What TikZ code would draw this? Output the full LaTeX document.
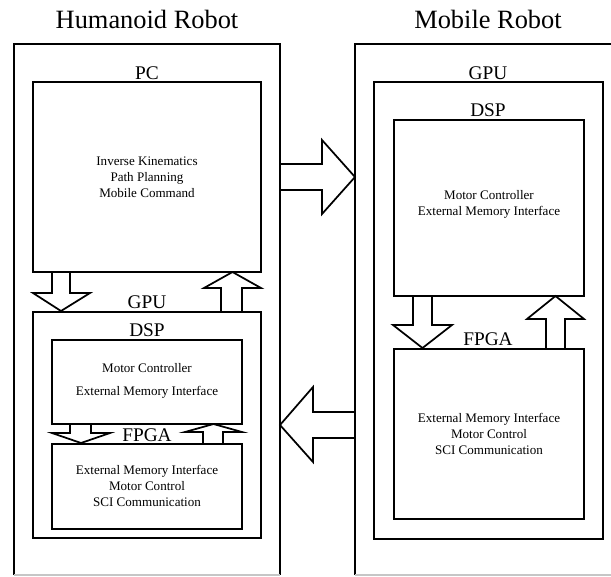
\documentclass[tikz,border=0pt]{standalone}
\usepackage{fontspec}
\setmainfont{Liberation Serif}
\begin{document}
\begin{tikzpicture}[x=0.75pt,y=-0.75pt,
  box/.style={draw=black, line width=1.4pt, inner sep=0pt, outer sep=0pt},
  blk/.style={draw=black, line width=1.3pt, line join=miter},
  title/.style={font=\fontsize{19.8}{22}\selectfont, inner sep=0pt},
  lbl/.style={font=\fontsize{14.5}{17}\selectfont, inner sep=0pt},
  txt/.style={font=\fontsize{9.8}{12}\selectfont, align=center, inner sep=0pt}]
\useasboundingbox (0,0) rectangle (611,576);
% titles
\node[title] (th) at (147,19) {Humanoid Robot};
\node[title] (tm) at (488,19) {Mobile Robot};
% outer boxes
\draw[line width=1.4pt] (14,575) -- (14,44) -- (280,44) -- (280,575);
\draw[gray!45, line width=0.8pt] (14,575) -- (280,575);
\draw[line width=1.4pt] (611,44) -- (355,44) -- (355,575);
\draw[gray!45, line width=0.8pt] (355,575) -- (611,575);
% ---------- Humanoid ----------
\node[lbl] (pcl) at (147,73) {PC};
\node[box, minimum width=228*0.75pt, minimum height=190*0.75pt] (pc) at (147,177) {};
\node[txt] (pct) at (147,177) {Inverse Kinematics\\Path Planning\\Mobile Command};
\node[lbl] (hgl) at (147,302) {GPU};
\node[box, minimum width=228*0.75pt, minimum height=226*0.75pt] (hgpu) at (147,425) {};
\node[lbl] (hdl) at (147,330) {DSP};
\node[box, minimum width=190*0.75pt, minimum height=84*0.75pt] (hdsp) at (147,382) {};
\node[txt] (hdt) at (147,380.5) {Motor Controller\\[5.2pt]External Memory Interface};
\node[lbl] (hfl) at (147,435) {FPGA};
\node[box, minimum width=190*0.75pt, minimum height=85*0.75pt] (hfpga) at (147,486.5) {};
\node[txt] (hft) at (147,486) {External Memory Interface\\Motor Control\\SCI Communication};
% PC <-> GPU arrows
\draw[blk] (52,272) -- (52,293) -- (33,293) -- (61,311) -- (90,293) -- (70,293) -- (70,272);
\draw[blk] (221,312) -- (221,288) -- (204,288) -- (232.5,272) -- (261,288) -- (242,288) -- (242,312);
% DSP <-> FPGA arrows
\draw[blk] (70,424) -- (70,433) -- (52,433) -- (81,443) -- (110,433) -- (91,433) -- (91,424);
\draw[blk] (203,444) -- (203,432) -- (185,432) -- (213.5,424) -- (242,432) -- (223,432) -- (223,444);
% ---------- Mobile ----------
\node[lbl] (mgl) at (488,73) {GPU};
\node[box, minimum width=229*0.75pt, minimum height=457*0.75pt] (mgpu) at (488.5,310.5) {};
\node[lbl] (mdl) at (488,110) {DSP};
\node[box, minimum width=190*0.75pt, minimum height=176*0.75pt] (mdsp) at (489,208) {};
\node[txt] (mdt) at (489,204) {Motor Controller\\External Memory Interface};
\node[lbl] (mfl) at (488,339) {FPGA};
\node[box, minimum width=190*0.75pt, minimum height=170*0.75pt] (mfpga) at (489,434) {};
\node[txt] (mft) at (489,433.5) {External Memory Interface\\Motor Control\\SCI Communication};
\draw[blk] (413,296) -- (413,325) -- (393,325) -- (422.5,348) -- (452,325) -- (432,325) -- (432,296);
\draw[blk] (546,349) -- (546,319) -- (527,319) -- (555.5,296) -- (584,319) -- (565,319) -- (565,349);
% ---------- between robots ----------
\draw[blk] (280,164) -- (322,164) -- (322,140) -- (355,177) -- (322,214) -- (322,190) -- (280,190);
\draw[blk] (355,412) -- (313,412) -- (313,387) -- (280,425) -- (313,462) -- (313,438) -- (355,438);
\end{tikzpicture}
\end{document}
